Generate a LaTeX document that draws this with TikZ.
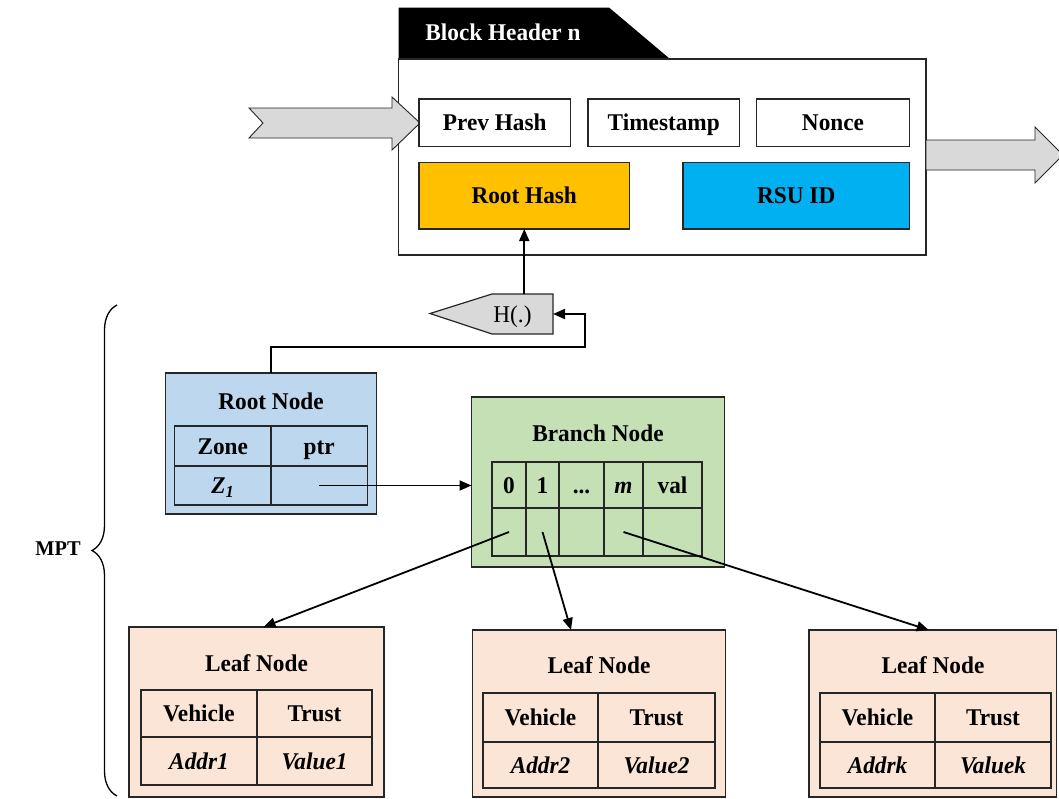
\documentclass[tikz,border=0pt]{standalone}
\usepackage{fontspec}
\setmainfont{Liberation Serif}[FakeStretch=0.97]
\usetikzlibrary{arrows.meta,decorations.pathreplacing,calc}

\definecolor{rootblue}{HTML}{BDD7EE}
\definecolor{branchgreen}{HTML}{C5E0B4}
\definecolor{leafpeach}{HTML}{FBE5D6}
\definecolor{hashorange}{HTML}{FFC000}
\definecolor{rsublue}{HTML}{00B0F0}
\definecolor{arrowgray}{HTML}{D9D9D9}
\definecolor{edge}{HTML}{262626}

% rectangle node given by its corners: [style]{name}{x1}{y1}{x2}{y2}{text}
\newcommand\mkbox[7][]{%
  \node[#1, minimum width={(#5-#3)*1pt}, minimum height={(#6-#4)*1pt}]
    (#2) at ({(#3+#5)/2},{(#4+#6)/2}) {#7};}

\begin{document}
\begin{tikzpicture}[x=1pt,y=-1pt,
  box/.style={draw=edge, line width=1.6pt, inner sep=0pt, outer sep=0pt},
  txt/.style={font=\fontsize{24}{26}\selectfont\bfseries,
    text height=16pt, text depth=0pt},
  field/.style={draw=edge, line width=1.2pt, inner sep=0pt, outer sep=0pt, txt},
  cellst/.style={draw=edge, line width=1.2pt, inner sep=0pt, outer sep=0pt, txt},
  title/.style={inner sep=0pt, txt},
  bigarrow/.style={draw=edge, line width=0.9pt, fill=arrowgray},
  link/.style={draw=black, line width=1.8pt, -{Triangle[length=12pt,width=10pt]}},
]
\useasboundingbox (0,0) rectangle (1059,798);
\clip (0,0) rectangle (1059,798);

% ---------- block header ----------
\fill[black] (398.5,7.5) -- (609,7.5) -- (670,59) -- (398.5,59) -- cycle;
\node[title, text=white] (hdrtitle) at (503,32) {Block Header n};
\mkbox[box, fill=white]{hdr}{398.5}{59}{926}{255}{}

% chain arrows
\draw[bigarrow] (249,108) -- (392,108) -- (392,97) -- (420,123) -- (392,150)
  -- (392,138) -- (249,138) -- (263,123) -- cycle;
\draw[bigarrow] (926,140) -- (1035,140) -- (1035,127) -- (1063,155) -- (1035,183)
  -- (1035,170) -- (926,170) -- cycle;

\mkbox[field, fill=white]{prev}{419}{99}{570.5}{146.5}{Prev Hash}
\mkbox[field, fill=white]{tstamp}{588}{99}{739.5}{146.5}{Timestamp}
\mkbox[field, fill=white]{nonce}{756.5}{99}{909.5}{146.5}{Nonce}
\mkbox[field, fill=hashorange]{roothash}{419}{162.5}{629.5}{229}{Root Hash}
\mkbox[field, fill=rsublue]{rsu}{683}{162.5}{909.5}{229}{RSU ID}

% ---------- hash function ----------
\draw[draw=edge, line width=1.2pt, fill=arrowgray]
  (430,313.5) -- (492,294) -- (553,294) -- (553,334) -- (492,334) -- cycle;
\mkbox[inner sep=0pt, outer sep=0pt, font=\fontsize{24}{26}\selectfont,
  text height=16pt, text depth=0pt]{hfun}{472}{294}{553}{334}{H(.)}
\draw[link] (roothash.south |- hfun.north) -- (roothash.south);

% ---------- root node ----------
\mkbox[box, fill=rootblue]{rootbox}{165.5}{373}{376.5}{514}{}
\node[title] (roottitle) at (271,401) {Root Node};
\mkbox[cellst]{rzone}{174.5}{426}{271}{466}{Zone}
\mkbox[cellst]{rptrh}{271}{426}{367.5}{466}{ptr}
\mkbox[cellst]{rzval}{174.5}{466}{271}{505}{\itshape Z\textsubscript{1}}
\mkbox[cellst]{rptr}{271}{466}{367.5}{505}{}

\coordinate (hturn) at (585,347);
\draw[link] (rootbox.north) |- (hturn) |- (hfun.east);

% ---------- branch node ----------
\mkbox[box, fill=branchgreen]{branch}{471.5}{397}{724.5}{567}{}
\node[title] (branchtitle) at (598,433) {Branch Node};
\mkbox[cellst]{b0}{492}{462}{526}{508}{0}
\mkbox[cellst]{b1}{526}{462}{559}{508}{1}
\mkbox[cellst]{bdots}{559}{462}{604}{508}{...}
\mkbox[cellst]{bm}{604}{462}{643}{508}{\itshape m}
\mkbox[cellst]{bval}{643}{462}{702}{508}{val}
\mkbox[cellst]{p0}{492}{508}{526}{556}{}
\mkbox[cellst]{p1}{526}{508}{559}{556}{}
\mkbox[cellst]{pdots}{559}{508}{604}{556}{}
\mkbox[cellst]{pm}{604}{508}{643}{556}{}
\mkbox[cellst]{pval}{643}{508}{702}{556}{}

\draw[link] (rptr.center) -- (rptr.center -| branch.west);

% ---------- leaf nodes ----------
\mkbox[box, fill=leafpeach]{leafA}{129}{627}{384}{797}{}
\node[title] (leafAtitle) at (256.5,663) {Leaf Node};
\mkbox[cellst]{aveh}{141}{690}{257}{737}{Vehicle}
\mkbox[cellst]{atr}{257}{690}{372}{737}{Trust}
\mkbox[cellst]{aaddr}{141}{737}{257}{785}{\itshape Addr1}
\mkbox[cellst]{aval}{257}{737}{372}{785}{\itshape Value1}

\mkbox[box, fill=leafpeach]{leafB}{472.5}{630}{725.5}{797}{}
\node[title] (leafBtitle) at (599,665) {Leaf Node};
\mkbox[cellst]{bveh}{483}{693}{598}{742}{Vehicle}
\mkbox[cellst]{btr}{598}{693}{715}{742}{Trust}
\mkbox[cellst]{baddr}{483}{742}{598}{788}{\itshape Addr2}
\mkbox[cellst]{bvalue}{598}{742}{715}{788}{\itshape Value2}

\mkbox[box, fill=leafpeach]{leafC}{809}{630}{1056.5}{797}{}
\node[title] (leafCtitle) at (933,665) {Leaf Node};
\mkbox[cellst]{cveh}{820}{693}{935}{742}{Vehicle}
\mkbox[cellst]{ctr}{935}{693}{1051}{742}{Trust}
\mkbox[cellst]{caddr}{820}{742}{935}{788}{\itshape Addrk}
\mkbox[cellst]{cval}{935}{742}{1051}{788}{\itshape Valuek}

\draw[link] (p0.center) -- ([xshift=7pt]leafA.north);
\draw[link] (p1.center) -- ([xshift=-28pt]leafB.north);
\draw[link] (pm.center) -- ([xshift=-4pt]leafC.north);

% ---------- MPT brace ----------
\draw[decorate, decoration={brace, amplitude=25pt}, line width=1.3pt]
  (117,796) -- (117,305);
\node[inner sep=0pt, font=\fontsize{21}{23}\selectfont\bfseries] (mpt) at (58,549) {MPT};
\end{tikzpicture}
\end{document}
